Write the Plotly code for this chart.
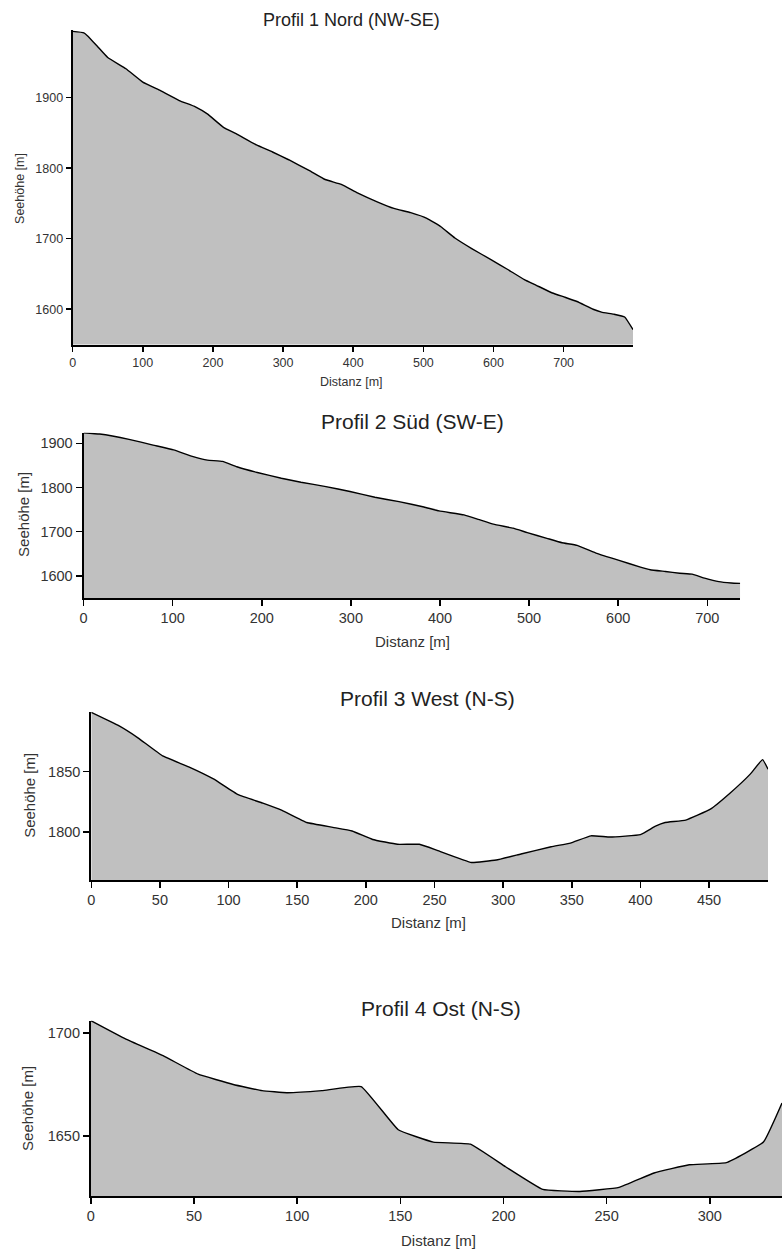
import plotly.graph_objects as go

# ---------------- data ----------------
p1_dist = [0, 16, 21, 36, 50, 76, 100, 123, 152, 175, 192, 215, 233, 262, 285, 308, 337, 360, 383,
           406, 435, 458, 482, 505, 525, 545, 569, 597, 621, 644, 661, 684, 702, 719, 742, 754, 771, 787, 799]
p1_elev = [1994, 1992, 1988, 1972, 1957, 1941, 1922, 1911, 1896, 1887, 1877, 1858, 1849, 1833, 1823, 1812,
           1797, 1784, 1777, 1765, 1752, 1743, 1737, 1729, 1717, 1701, 1686, 1670, 1656, 1642, 1634, 1623,
           1617, 1611, 1600, 1596, 1593, 1589, 1571]

p2_dist = [0, 18, 51, 78, 101, 123, 139, 156, 172, 195, 222, 244, 272, 299, 327, 354, 382, 399, 427,
           443, 460, 482, 498, 520, 537, 554, 576, 601, 625, 636, 653, 669, 683, 697, 713, 727, 737]
p2_elev = [1924, 1921, 1909, 1896, 1885, 1870, 1862, 1859, 1847, 1834, 1821, 1812, 1802, 1791, 1778, 1768,
           1756, 1747, 1738, 1728, 1717, 1708, 1698, 1685, 1675, 1669, 1651, 1635, 1620, 1614, 1610, 1606,
           1604, 1595, 1587, 1584, 1583]

p3_dist = [0, 20, 34, 52, 71, 89, 107, 125, 139, 157, 176, 190, 205, 223, 239, 252, 277, 295, 313, 335,
           349, 364, 378, 400, 411, 418, 433, 451, 465, 480, 489, 493]
p3_elev = [1899, 1888, 1878, 1863, 1854, 1844, 1831, 1824, 1818, 1808, 1804, 1801, 1794, 1790, 1790, 1785,
           1775, 1777, 1782, 1788, 1791, 1797, 1796, 1798, 1805, 1808, 1810, 1819, 1832, 1848, 1860, 1852]

p4_dist = [0, 17, 35, 52, 69, 83, 95, 112, 131, 149, 166, 184, 201, 219, 237, 256, 273, 290, 308, 326, 335]
p4_elev = [1706, 1697, 1689, 1680, 1675, 1672, 1671, 1672, 1674, 1653, 1647, 1646, 1635, 1624, 1623, 1625,
           1632, 1636, 1637, 1647, 1666]

titles = ["Profil 1 Nord (NW-SE)", "Profil 2 Süd (SW-E)", "Profil 3 West (N-S)", "Profil 4 Ost (N-S)"]
x_title = "Distanz [m]"
y_title = "Seehöhe [m]"

# ---------------- layout helpers ----------------
W, H = 782, 1250
FONT = "Liberation Sans, Arial, sans-serif"


def px_x(v):
    return v / W


def px_y(v):
    return 1 - v / H


panels = [
    dict(x=p1_dist, y=p1_elev, xd=(69, 632.3), yd=(344.5, 30), xr=[0, 799], yr=[1550, 1996],
         dx=100, dy=100, tick=12.5, tfs=18, afs=12.5, tl=5,
         title_pos=(349, 20), xt_pos=(349, 382), yt_pos=(16, 188)),
    dict(x=p2_dist, y=p2_elev, xd=(80, 740), yd=(598, 432.7), xr=[0, 737], yr=[1550, 1924],
         dx=100, dy=100, tick=14.5, tfs=21, afs=15, tl=6,
         title_pos=(411, 421), xt_pos=(411, 642), yt_pos=(19, 514)),
    dict(x=p3_dist, y=p3_elev, xd=(87.7, 768), yd=(880, 711.8), xr=[0, 493], yr=[1760.5, 1899.5],
         dx=50, dy=50, tick=14.5, tfs=21, afs=15, tl=6,
         title_pos=(426, 698), xt_pos=(427, 923), yt_pos=(25, 795)),
    dict(x=p4_dist, y=p4_elev, xd=(87.3, 782), yd=(1196, 1020.7), xr=[0, 335], yr=[1620.8, 1706],
         dx=50, dy=50, tick=14.5, tfs=21, afs=15, tl=6,
         title_pos=(439, 1008), xt_pos=(437, 1240), yt_pos=(23, 1108)),
]

fig = go.Figure()
layout = dict(
    width=W, height=H, margin=dict(l=0, r=0, t=0, b=0, pad=0),
    paper_bgcolor="white", plot_bgcolor="white", showlegend=False,
    font=dict(family=FONT, color="#222"),
)
annotations = []

for i, p in enumerate(panels, start=1):
    xa = "x" if i == 1 else f"x{i}"
    ya = "y" if i == 1 else f"y{i}"
    fig.add_trace(go.Scatter(
        x=p["x"], y=p["y"], xaxis=xa, yaxis=ya, mode="lines",
        line=dict(color="black", width=1.4, shape="spline", smoothing=0.3),
        fill="tozeroy", fillcolor="#c0c0c0", hoverinfo="skip",
    ))
    xkey = "xaxis" if i == 1 else f"xaxis{i}"
    ykey = "yaxis" if i == 1 else f"yaxis{i}"
    common = dict(showgrid=False, zeroline=False, showline=True, linecolor="black", linewidth=2,
                  ticks="outside", ticklen=p["tl"], tickwidth=1.5, tickcolor="black",
                  tickfont=dict(family=FONT, size=p["tick"], color="#333"))
    layout[xkey] = dict(domain=[px_x(p["xd"][0]), px_x(p["xd"][1])], range=p["xr"],
                        anchor=ya, dtick=p["dx"], tick0=0, **common)
    layout[ykey] = dict(domain=[px_y(p["yd"][0]), px_y(p["yd"][1])], range=p["yr"],
                        anchor=xa, dtick=p["dy"], tick0=0, **common)
    tx, ty = p["title_pos"]
    annotations.append(dict(text=titles[i - 1], x=px_x(tx), y=px_y(ty), xref="paper", yref="paper",
                            showarrow=False, xanchor="center", yanchor="middle",
                            font=dict(family=FONT, size=p["tfs"], color="#222")))
    ax_, ay_ = p["xt_pos"]
    annotations.append(dict(text=x_title, x=px_x(ax_), y=px_y(ay_), xref="paper", yref="paper",
                            showarrow=False, xanchor="center", yanchor="middle",
                            font=dict(family=FONT, size=p["afs"], color="#333")))
    bx, by = p["yt_pos"]
    annotations.append(dict(text=y_title, x=px_x(bx), y=px_y(by), xref="paper", yref="paper",
                            showarrow=False, xanchor="center", yanchor="middle", textangle=-90,
                            font=dict(family=FONT, size=p["afs"], color="#333")))

layout["annotations"] = annotations
fig.update_layout(**layout)
fig.write_html(
    "out.html",
    config={"displayModeBar": False, "staticPlot": True},
    post_script="document.body.style.margin='0';document.body.style.overflow='hidden';",
)
